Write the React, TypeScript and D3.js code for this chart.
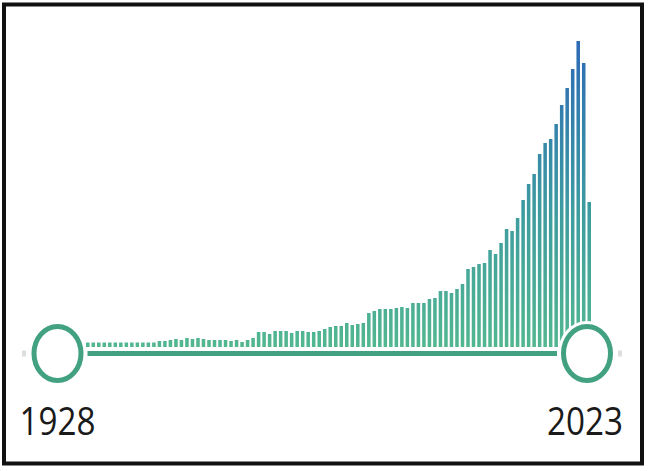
import React, { useEffect, useRef } from 'react';
import * as d3 from 'd3';

// range slider histogram
const startYear = 1928;
const endYear = 2023;

const early = [4.5, 4.5, 4.5, 4.5, 4.5, 4.5, 4.5, 4.5, 4.5, 4.5, 4.5, 4.5, 4.5];
const prewar = [6, 6, 7, 8, 7, 9, 8, 9, 8, 7, 7, 7, 7, 6, 7, 5, 7, 9];
const middle = [15, 15, 13, 16, 16, 16, 14, 16, 16, 15, 15, 16, 18, 20, 21, 21, 24, 22, 23, 24];
const growth = [34, 36, 38, 38, 38, 39, 40, 39, 44, 44, 44, 48, 49, 56, 56, 54, 58, 63, 78, 80, 83, 84, 97, 93, 104, 118, 116, 129, 147];
const recent = [163, 173, 193, 204, 208, 223, 242, 259, 278, 306, 284, 145];

const counts = [...early, ...prewar, ...middle, ...growth, ...recent];

const App = () => {
  const svgRef = useRef(null);
  const width = 649;
  const height = 471;

  useEffect(() => {
    d3.select(svgRef.current).selectAll('*').remove();

    const svg = d3.select(svgRef.current)
      .attr('width', width)
      .attr('height', height);

    // outer frame
    svg.append('rect')
      .attr('x', 4)
      .attr('y', 4.5)
      .attr('width', 638)
      .attr('height', 459)
      .attr('fill', 'white')
      .attr('stroke', '#111')
      .attr('stroke-width', 4);

    const baseline = 347;
    const xScale = d3.scaleBand()
      .domain(counts.map((_, i) => i))
      .range([86, 591])
      .paddingInner(0.36);

    const yScale = d3.scaleLinear()
      .domain([0, d3.max(counts)])
      .range([baseline, 41]);

    // vertical gradient over the whole plot, green at the base, blue on top
    const grad = svg.append('defs').append('linearGradient')
      .attr('id', 'barGrad')
      .attr('gradientUnits', 'userSpaceOnUse')
      .attr('x1', 0).attr('x2', 0)
      .attr('y1', baseline).attr('y2', 41);
    grad.append('stop').attr('offset', '0%').attr('stop-color', '#52b790');
    grad.append('stop').attr('offset', '45%').attr('stop-color', '#3d9ba0');
    grad.append('stop').attr('offset', '100%').attr('stop-color', '#2c6bb6');

    svg.append('g')
      .selectAll('rect')
      .data(counts)
      .enter()
      .append('rect')
      .attr('x', (_, i) => xScale(i))
      .attr('y', d => yScale(d))
      .attr('width', xScale.bandwidth())
      .attr('height', d => baseline - yScale(d))
      .attr('fill', 'url(#barGrad)');

    const trackY = 353.5;
    const leftX = 57.5;
    const rightX = 587;

    // little grey end stops of the track
    [24, 620].forEach(x => {
      svg.append('rect')
        .attr('x', x - 2)
        .attr('y', trackY - 3)
        .attr('width', 4)
        .attr('height', 6)
        .attr('fill', '#dedede');
    });

    // selected range
    svg.append('line')
      .attr('x1', leftX + 26)
      .attr('x2', rightX - 28)
      .attr('y1', trackY)
      .attr('y2', trackY)
      .attr('stroke', 'white')
      .attr('stroke-width', 9);
    svg.append('line')
      .attr('x1', leftX + 30)
      .attr('x2', rightX - 30)
      .attr('y1', trackY)
      .attr('y2', trackY)
      .attr('stroke', '#42a181')
      .attr('stroke-width', 5);

    // handles
    [leftX, rightX].forEach(cx => {
      svg.append('ellipse')
        .attr('cx', cx)
        .attr('cy', trackY)
        .attr('rx', 23.5)
        .attr('ry', 27)
        .attr('fill', 'white')
        .attr('stroke', 'white')
        .attr('stroke-width', 11);
      svg.append('ellipse')
        .attr('cx', cx)
        .attr('cy', trackY)
        .attr('rx', 23.5)
        .attr('ry', 27)
        .attr('fill', 'white')
        .attr('stroke', '#42a181')
        .attr('stroke-width', 5);
    });

    // year labels under the handles
    [[leftX, startYear], [rightX - 2, endYear]].forEach(([x, year]) => {
      svg.append('text')
        .attr('x', x)
        .attr('y', 435)
        .attr('text-anchor', 'middle')
        .attr('textLength', 76)
        .attr('lengthAdjust', 'spacingAndGlyphs')
        .attr('fill', '#1a1a1a')
        .style('font-family', '"Open Sans", sans-serif')
        .style('font-size', '38px')
        .text(year);
    });
  }, []);

  return (
    <div style={{ position: 'absolute', left: 0, top: 0 }}>
      <svg ref={svgRef}></svg>
    </div>
  );
};

export default App;
